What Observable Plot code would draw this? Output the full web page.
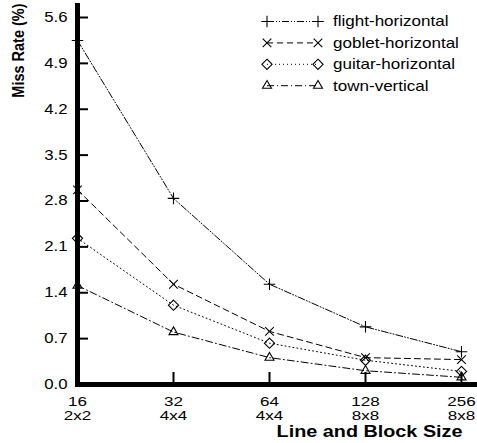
<!DOCTYPE html>
<html>
<head>
<meta charset="utf-8">
<script src="https://cdn.jsdelivr.net/npm/d3@7"></script>
<script src="https://cdn.jsdelivr.net/npm/@observablehq/plot@0.6"></script>
<style>
  html, body { margin: 0; padding: 0; background: #fff; }
  #chart { position: relative; width: 477px; height: 443px; }
  #legend { position: absolute; left: 0; top: 0; pointer-events: none; }
</style>
</head>
<body>
<div id="chart"></div>
<script>
const sizes = [16, 32, 64, 128, 256];
const blockLabels = ["2x2", "4x4", "4x4", "8x8", "8x8"];
const yTicks = [0, 0.7, 1.4, 2.1, 2.8, 3.5, 4.2, 4.9, 5.6];

const seriesNames = ["flight-horizontal", "goblet-horizontal", "guitar-horizontal", "town-vertical"];
const flight = [5.25, 2.84, 1.53, 0.88, 0.50];
const goblet = [2.97, 1.53, 0.81, 0.41, 0.38];
const guitar = [2.23, 1.21, 0.63, 0.37, 0.20];
const town   = [1.51, 0.80, 0.41, 0.21, 0.11];
const seriesValues = [flight, goblet, guitar, town];

const symbols = ["plus", "times", "diamond2", "triangle2"];
const d3Symbols = [d3.symbolPlus, d3.symbolTimes, d3.symbolDiamond2, d3.symbolTriangle2];
const radii = [3.8, 4.0, 4.6, 4.3];
const dashes = ["7,2,1,2,1,2", "6,4", "1,3", "7,3,1,3"];

const rows = [];
seriesNames.forEach((name, i) => {
  seriesValues[i].forEach((v, j) => rows.push({series: name, size: sizes[j], value: v}));
});

const font = "'Liberation Sans', Arial, sans-serif";
const SX = 1.2;   // horizontal stretch of the text glyphs
const SXT = 1.36; // stretch for the two-line x tick labels

const marks = [];
seriesNames.forEach((name, i) => {
  const data = rows.filter(d => d.series === name);
  marks.push(Plot.line(data, {x: "size", y: "value", stroke: "black", strokeWidth: 1, strokeDasharray: dashes[i]}));
  marks.push(Plot.dot(data, {x: "size", y: "value", symbol: () => symbols[i], r: radii[i], stroke: "black", strokeWidth: 1.1, fill: "none"}));
});

const chart = Plot.plot({
  width: 477,
  height: 443,
  marginLeft: 77,
  marginRight: 0,
  marginTop: 5,
  marginBottom: 59,
  style: {fontFamily: font, fontSize: "14px", color: "black", background: "white"},
  x: {type: "log", base: 2, domain: [16, 256], insetRight: 16},
  y: {domain: [0, 5.6], insetTop: 12},
  marks: [
    Plot.axisY(yTicks, {anchor: "left", tickSize: 11, dx: 11, strokeWidth: 2, tickFormat: () => "", label: null}),
    Plot.axisY(yTicks, {anchor: "left", tickSize: 0, tickPadding: 10, tickFormat: d => d.toFixed(1), label: null, fontSize: 14}),
    Plot.axisX(sizes, {anchor: "bottom", tickSize: 12, dy: -12, strokeWidth: 2, tickFormat: () => "", label: null}),
    Plot.axisX(sizes, {anchor: "bottom", tickSize: 0, tickPadding: 11, tickFormat: (d) => `${d}\n${blockLabels[sizes.indexOf(d)]}`, label: null, lineHeight: 1.13, fontSize: 12.5}),
    ...marks,
    Plot.frame({anchor: "left", strokeWidth: 5}),
    Plot.frame({anchor: "bottom", strokeWidth: 5}),
    Plot.text(["Miss Rate (%)"], {frameAnchor: "top-left", dx: -59, dy: -2, rotate: -90, textAnchor: "end", lineAnchor: "middle", fontWeight: "bold", fontSize: 14.5}),
    Plot.text(["Line and Block Size"], {frameAnchor: "bottom-right", dx: -15, dy: 47, textAnchor: "end", lineAnchor: "middle", fontWeight: "bold", fontSize: 16.5})
  ]
});

// stretch glyphs horizontally around their anchor points
d3.select(chart).selectAll("text").each(function() {
  const t = this.getAttribute("transform");
  const twoLine = this.querySelector("tspan") !== null;
  const s = twoLine ? SXT : SX;
  if (t && /^translate\([^)]*\)/.test(t)) {
    this.setAttribute("transform", t.replace(/^(translate\([^)]*\))/, `$1 scale(${s},1)`));
  }
});

const container = document.getElementById("chart");
container.appendChild(chart);

// Legend overlay
const lg = d3.select(container).append("svg")
  .attr("id", "legend").attr("width", 477).attr("height", 110);
seriesNames.forEach((name, i) => {
  const y = 21.5 + i * 21.4;
  const x0 = 267, x1 = 318;
  lg.append("line").attr("x1", x0).attr("x2", x1).attr("y1", y).attr("y2", y)
    .attr("stroke", "black").attr("stroke-width", 1).attr("stroke-dasharray", dashes[i]);
  const path = d3.symbol().type(d3Symbols[i]).size(Math.PI * radii[i] * radii[i])();
  [x0, x1].forEach(x => {
    lg.append("path").attr("d", path).attr("transform", `translate(${x},${y})`)
      .attr("fill", "none").attr("stroke", "black").attr("stroke-width", 1.1);
  });
  lg.append("text").attr("transform", `translate(333,${y}) scale(${SX},1)`).attr("dy", "0.35em")
    .attr("font-family", font).attr("font-size", 14.2).text(name);
});
</script>
</body>
</html>
